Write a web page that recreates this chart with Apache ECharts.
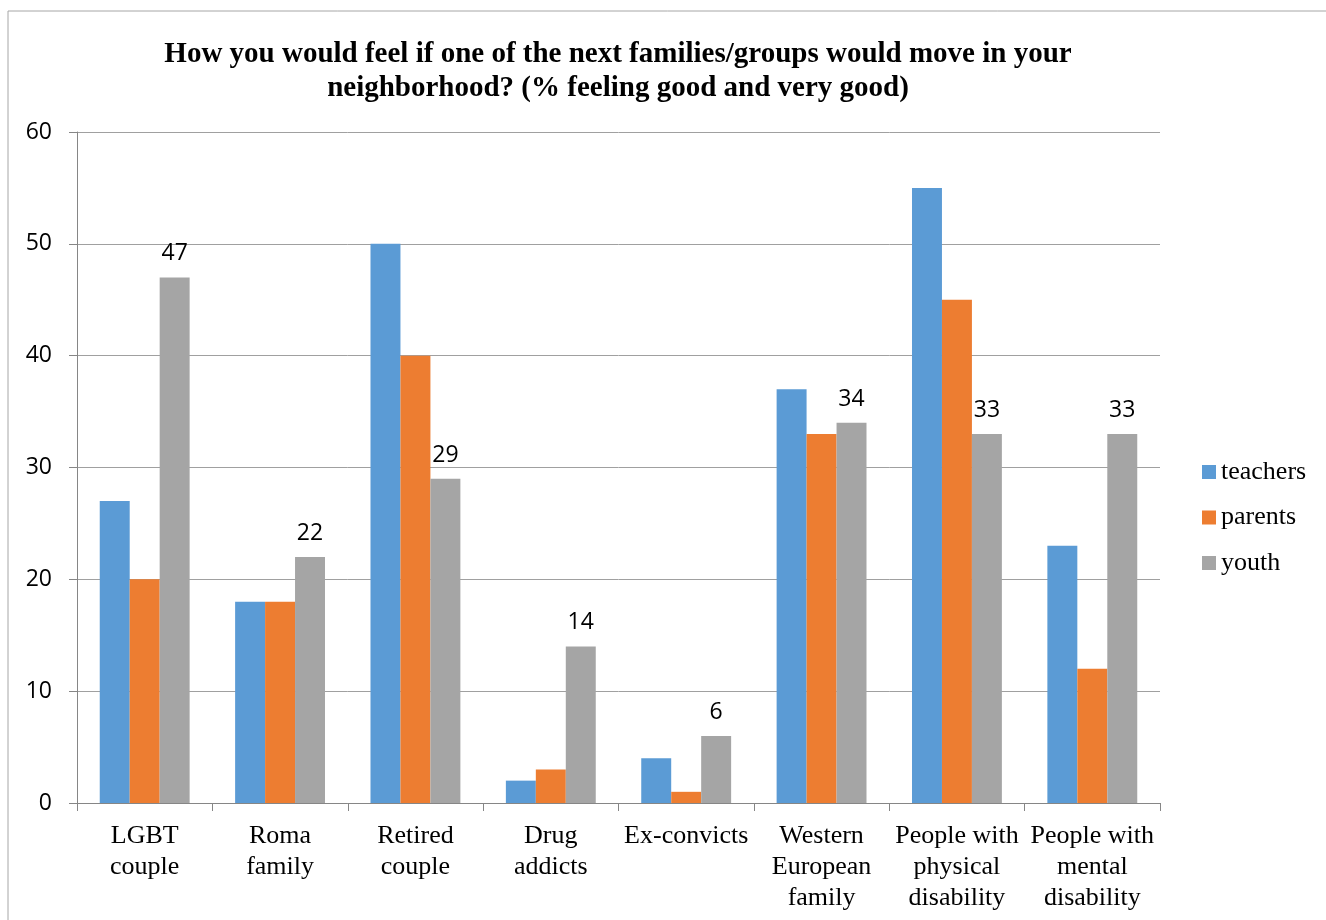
<!DOCTYPE html>
<html><head><meta charset="utf-8">
<script src="https://cdn.jsdelivr.net/npm/echarts@6/dist/echarts.min.js"></script>
<style>html,body{margin:0;padding:0;background:#fff}#c{width:1326px;height:920px}</style>
</head><body><div id="c"></div>
<script>
const categories = ["LGBT\ncouple","Roma\nfamily","Retired\ncouple","Drug\naddicts","Ex-convicts","Western\nEuropean\nfamily","People with\nphysical\ndisability","People with\nmental\ndisability"];
const teachers = [27, 18, 50, 2, 4, 37, 55, 23];
const parents = [20, 18, 40, 3, 1, 33, 45, 12];
const youth = [47, 22, 29, 14, 6, 34, 33, 33];
const yTicks = [0, 10, 20, 30, 40, 50, 60];
const titleText = "How you would feel if one of the next families/groups would move in your\nneighborhood? (% feeling good and very good)";

const serif = "'Liberation Serif','Times New Roman',serif";
const sans = "'Open Sans','Liberation Sans',sans-serif";
const chart = echarts.init(document.getElementById('c'), null, {renderer:'canvas'});
chart.setOption({
  animation:false,
  backgroundColor:'#fff',
  graphic:[{type:'rect',shape:{x:8,y:11,width:1400,height:1000},style:{fill:'none',stroke:'#a6a6a6',lineWidth:1}}],
  title:{text:titleText,left:613,textAlign:'center',top:33,textStyle:{fontFamily:serif,fontWeight:'bold',fontSize:29,lineHeight:34,color:'#000'}},
  legend:{orient:'vertical',left:1197,top:454,itemWidth:14,itemHeight:14,itemGap:19.5,icon:'rect',
    textStyle:{fontFamily:serif,fontSize:26,lineHeight:26,color:'#000'},
    data:['teachers','parents','youth']},
  grid:{left:77,right:166,top:132,bottom:117,containLabel:false},
  xAxis:{type:'category',data:categories,
    axisLine:{lineStyle:{color:'#868686'}},
    axisTick:{show:true,length:8,lineStyle:{color:'#868686'}},
    axisLabel:{interval:0,margin:18,fontFamily:serif,fontSize:26,lineHeight:31,color:'#000'}},
  yAxis:{type:'value',min:yTicks[0],max:yTicks[yTicks.length-1],interval:10,
    axisLine:{show:true,lineStyle:{color:'#868686'}},
    axisTick:{show:true,length:8,lineStyle:{color:'#868686'}},
    splitLine:{lineStyle:{color:'#a0a0a0'}},
    axisLabel:{margin:25,fontFamily:sans,fontSize:23,color:'#000'}},
  series:[
    {name:'teachers',type:'bar',data:teachers,barGap:'0%',barCategoryGap:'33.6%',itemStyle:{color:'#5B9BD5'}},
    {name:'parents',type:'bar',data:parents,barGap:'0%',barCategoryGap:'33.6%',itemStyle:{color:'#ED7D31'}},
    {name:'youth',type:'bar',data:youth,barGap:'0%',barCategoryGap:'33.6%',itemStyle:{color:'#A5A5A5'},
      label:{show:true,position:'top',distance:12,fontFamily:sans,fontSize:23,color:'#000'}}
  ]
});
</script></body></html>
